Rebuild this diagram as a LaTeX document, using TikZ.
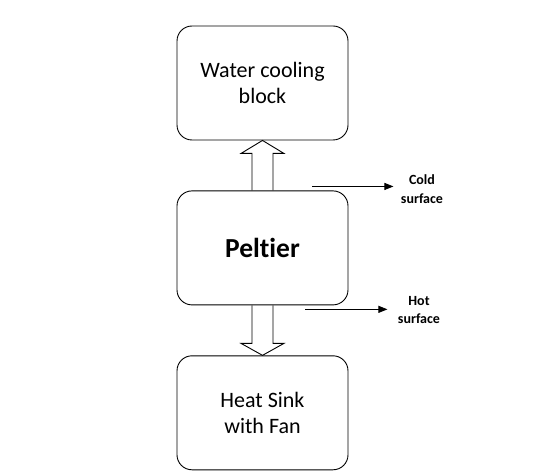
\documentclass[tikz,border=0pt]{standalone}
\usepackage{fontspec}
\setmainfont[Ligatures={NoCommon}]{Carlito}
\usetikzlibrary{positioning,calc,arrows.meta}

\begin{document}
\begin{tikzpicture}[x=1pt, y=-1pt, node distance=50pt, line width=0.9pt,
box/.style={draw, rounded corners=15pt, minimum width=171pt, minimum height=114pt, align=center, font=\fontsize{22}{26}\selectfont},
side/.style={align=center, font=\bfseries\fontsize{14}{18.5}\selectfont},
flow/.style={-{Triangle[length=9pt, width=7pt]}}]
\useasboundingbox (0,0) rectangle (533,473);
\node[box] (water) at (262.5,83) {Water cooling\\block};
\node[box, below=of water, font=\bfseries\fontsize{27.5}{32}\selectfont] (peltier) {Peltier};
\node[box, below=of peltier] (sink) {Heat Sink\\with Fan};
% hollow arrows
\draw (peltier.north) ++(-10.5,0) -- ++(0,-37) -- ++(-11,0) -- (water.south) -- ++(21.5,13) -- ++(-11,0) -- ++(0,37);
\draw (peltier.south) ++(-10.5,0) -- ++(0,38) -- ++(-11,0) -- (sink.north) -- ++(21.5,-12) -- ++(-11,0) -- ++(0,-38);
% surfaces
\node[side] (cold) at (422,189) {Cold\\surface};
\node[side] (hot) at (419,310) {Hot\\surface};
\coordinate (c0) at ($(peltier.north east)+(-36,-4)$);
\coordinate (c1) at ($(c0)+(81,0)$);
\coordinate (h0) at ($(peltier.south east)+(-43,4)$);
\coordinate (h1) at ($(h0)+(82,0)$);
\draw[flow] (c0) -- (c1);
\draw[flow] (h0) -- (h1);
\end{tikzpicture}
\end{document}
